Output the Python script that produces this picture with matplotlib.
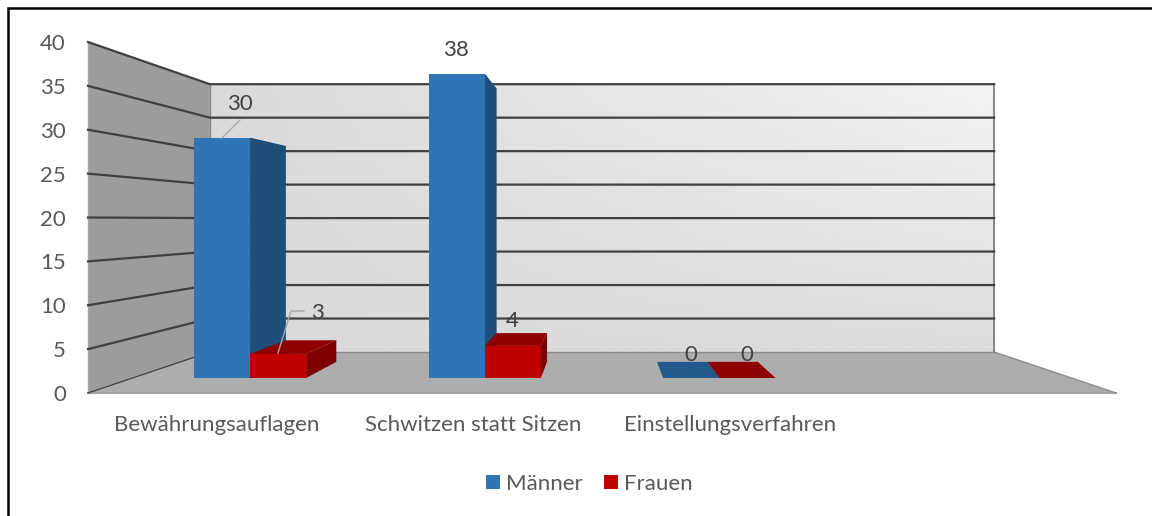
import numpy as np
import matplotlib
matplotlib.use("Agg")
import matplotlib.pyplot as plt
from matplotlib.patches import Patch, Polygon

categories = ["Bewährungsauflagen", "Schwitzen statt Sitzen", "Einstellungsverfahren"]
maenner = [30, 38, 0]
frauen = [3, 4, 0]
y_ticks = [0, 5, 10, 15, 20, 25, 30, 35, 40]

plt.rcParams["font.family"] = ["Lato", "DejaVu Sans"]
TEXT = "#595959"
LABEL = "#404040"
FS = 16

fig = plt.figure(figsize=(11.52, 5.16), dpi=100)
ax = fig.add_axes([0, 0, 1, 1])

# fake 3d: everything goes through one perspective projection
VX, VY = 602, 220
LEFT, RIGHT = 88, 1116
BASE = 393
UNIT = 8.775
CAT_W = 257
BAR_W = 61.5
S_WALL, S_FRONT, S_BACK = 0.763, 0.913, 0.82


def proj(x, v, s):
    return VX + (x - VX) * s, VY + (BASE - v * UNIT - VY) * s


def poly(pts, color, z=2):
    ax.add_patch(Polygon(pts, closed=True, fc=color, ec=color, lw=0, zorder=z))


# back wall with its gradient
x0, y0 = proj(LEFT, 40, S_WALL)
x1, y1 = proj(RIGHT, 0, S_WALL)
u, w = np.meshgrid(np.linspace(0, 1, 300), np.linspace(1, 0, 100))
grad = 0xd9 + (0xf3 - 0xd9) * u * (0.1 + 0.9 * w)
ax.imshow(grad, extent=[x0, x1, y1, y0], cmap="gray", vmin=0, vmax=255, aspect="auto", zorder=1)

# left wall and floor
poly([proj(LEFT, 0, 1), proj(LEFT, 40, 1), proj(LEFT, 40, S_WALL), proj(LEFT, 0, S_WALL)], "#9c9c9c")
poly([proj(LEFT, 0, 1), proj(RIGHT, 0, 1), proj(RIGHT, 0, S_WALL), proj(LEFT, 0, S_WALL)], "#adadad")
ax.plot(*zip(proj(LEFT, 0, 1), proj(RIGHT, 0, 1)), color="#a3a3a3", lw=1.5, zorder=3)
ax.plot(*zip(proj(LEFT, 0, S_WALL), proj(RIGHT, 0, S_WALL)), color="#8c8c8c", lw=1, zorder=3)
ax.plot(*zip(proj(RIGHT, 0, S_WALL), proj(RIGHT, 0, 1)), color="#8c8c8c", lw=1, zorder=3)
ax.plot(*zip(proj(LEFT, 0, 1), proj(LEFT, 40, 1)), color="#a6a6a6", lw=1, zorder=3)
ax.plot(*zip(proj(LEFT, 0, S_WALL), proj(LEFT, 40, S_WALL)), color="#7f7f7f", lw=1, zorder=3)
ax.plot(*zip(proj(RIGHT, 0, S_WALL), proj(RIGHT, 40, S_WALL)), color="#7f7f7f", lw=1.3, zorder=3)

# grid lines, on both walls
for t in y_ticks:
    if t > 0:
        ax.plot(*zip(proj(RIGHT, t, S_WALL), proj(LEFT, t, S_WALL), proj(LEFT, t, 1)),
                color="#404040", lw=1.6, zorder=3, solid_joinstyle="miter")
    else:
        ax.plot(*zip(proj(LEFT, t, S_WALL), proj(LEFT, t, 1)), color="#404040", lw=0.9, zorder=3)
    tx, ty = proj(LEFT, t, 1)
    ax.text(66, ty + 2, str(t), ha="right", va="center", fontsize=FS, color=TEXT, zorder=6)


def bar(xa, xb, v, front, side, top):
    # side face turns towards the vanishing point, top only shows below eye level
    xs = xb if xb < VX else xa
    poly([proj(xs, 0, S_FRONT), proj(xs, v, S_FRONT), proj(xs, v, S_BACK), proj(xs, 0, S_BACK)], side, z=4)
    if proj(xa, v, S_FRONT)[1] > VY:
        poly([proj(xa, v, S_FRONT), proj(xb, v, S_FRONT), proj(xb, v, S_BACK), proj(xa, v, S_BACK)], top, z=4)
    if v > 0:
        poly([proj(xa, 0, S_FRONT), proj(xb, 0, S_FRONT), proj(xb, v, S_FRONT), proj(xa, v, S_FRONT)], front, z=5)


for i, cat in enumerate(categories):
    xc = LEFT + CAT_W * (i + 0.5)
    bar(xc - BAR_W, xc, maenner[i], "#2e75b6", "#1f4e79", "#22588c")
    bar(xc, xc + BAR_W, frauen[i], "#c00000", "#7f0000", "#8f0000")
    ax.text(xc, 425, cat, ha="center", va="center", fontsize=FS, color=TEXT, zorder=6)

# data labels sit where they were dragged in the original
lab_pos_m = [(240, 104), (456, 50), (691, 355)]
lab_pos_f = [(317, 313), (512, 321), (747, 355)]
for (lx, ly), v in zip(lab_pos_m, maenner):
    ax.text(lx, ly, str(v), ha="center", va="center", fontsize=FS, color=LABEL, zorder=6)
for (lx, ly), v in zip(lab_pos_f, frauen):
    ax.text(lx, ly, str(v), ha="center", va="center", fontsize=FS, color=LABEL, zorder=6)
ax.plot([222, 240], [138, 120], color="#a6a6a6", lw=1, zorder=6)
ax.plot([278, 291, 304], [353, 311, 311], color="#a6a6a6", lw=1, zorder=6)

# outer frame, only top and left survive the crop
ax.plot([1152, 8, 8], [8, 8, 516], color="black", lw=1.8, zorder=7, solid_joinstyle="miter")

handles = [Patch(fc="#2e75b6", label="Männer"), Patch(fc="#c00000", label="Frauen")]
ax.legend(handles=handles, loc="center", bbox_to_anchor=(589, 484), bbox_transform=ax.transData,
          ncol=2, frameon=False, fontsize=FS, labelcolor=TEXT, handlelength=0.63, handleheight=0.63,
          handletextpad=0.27, columnspacing=0.95, borderpad=0)

ax.set_xlim(0, 1152)
ax.set_ylim(516, 0)
ax.axis("off")
plt.savefig("out.png", dpi=100)
